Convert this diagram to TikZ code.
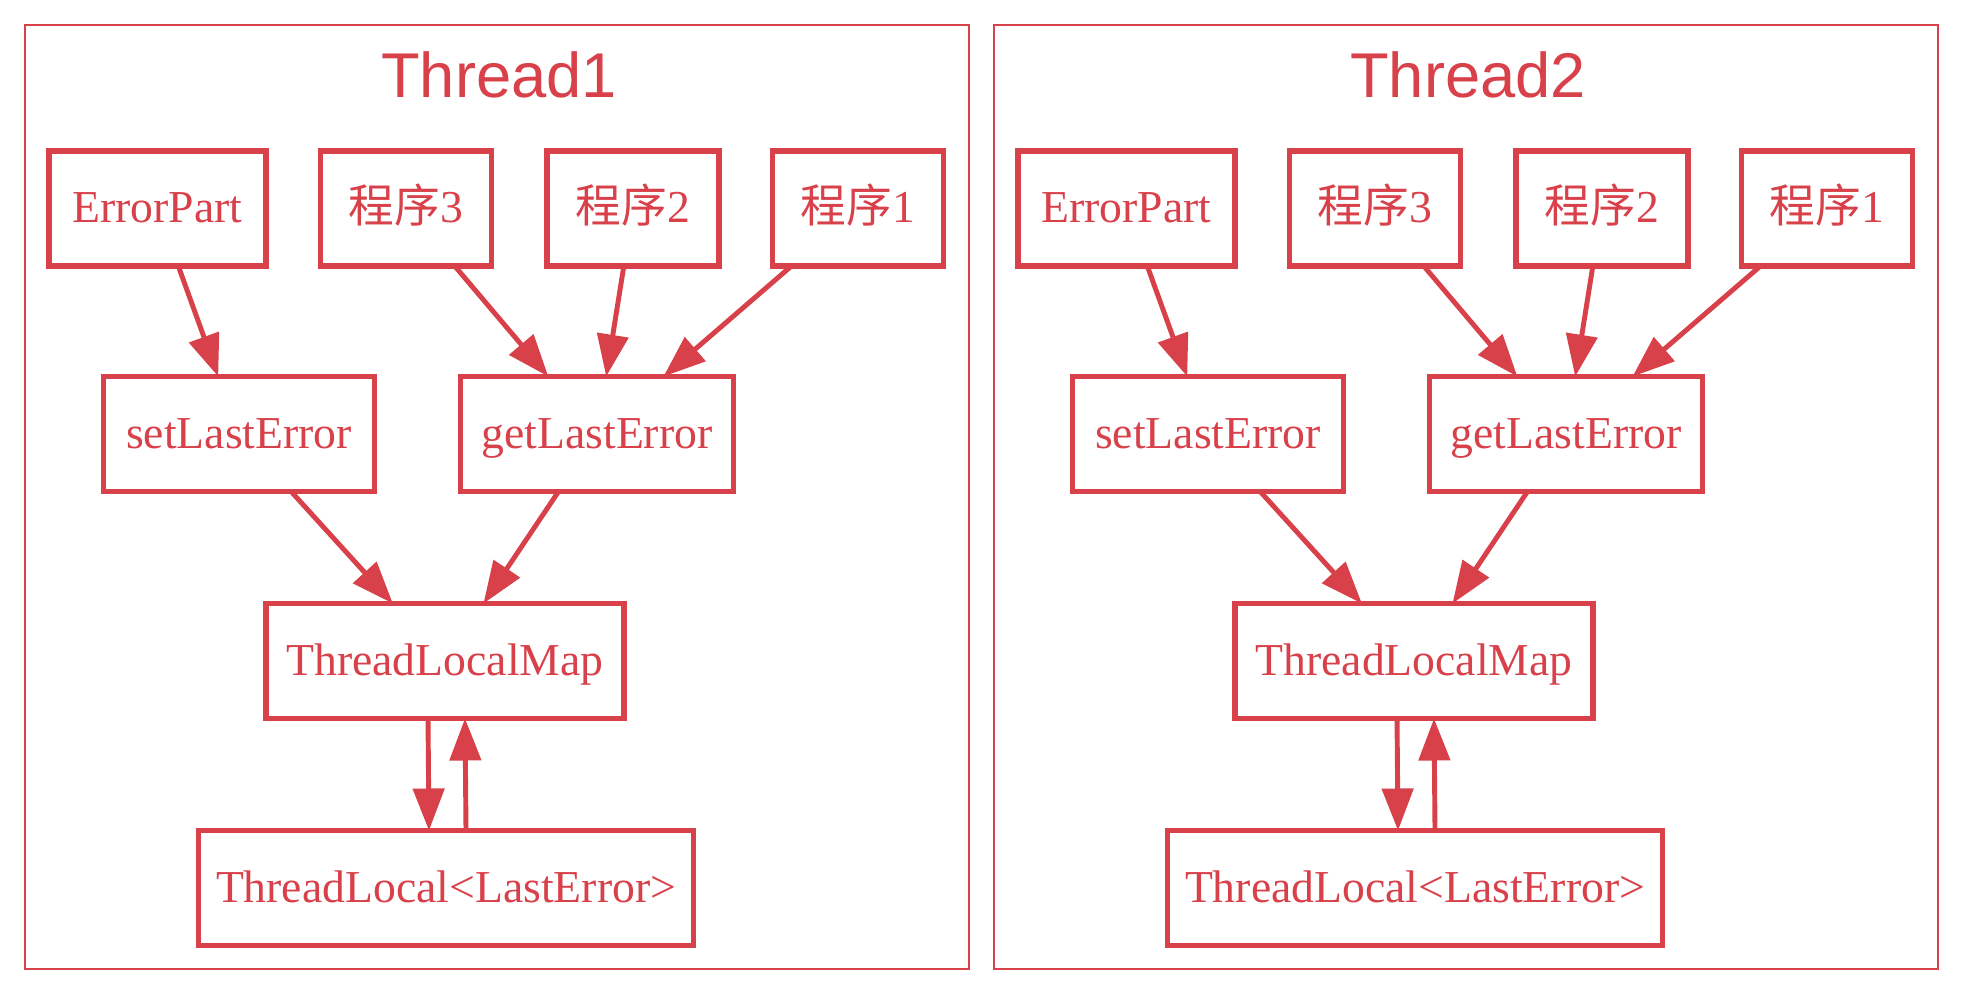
\documentclass[tikz,border=0pt]{standalone}
\usepackage{fontspec}
\setmainfont{Liberation Serif}
\newfontfamily\titlefont{Liberation Sans}
\newfontfamily\cjk{Noto Sans CJK SC}
\usetikzlibrary{arrows.meta, positioning}
\definecolor{myred}{RGB}{216,64,74}
\tikzset{
  frame/.style={rectangle, draw=myred, line width=0.7pt,
    minimum width=9.44cm, minimum height=9.44cm},
  threadtitle/.style={text=myred, font=\titlefont\fontsize{18}{20}\selectfont},
  box/.style={rectangle, draw=myred, text=myred, line width=1.6pt,
    minimum height=1.15cm, inner sep=2pt, outer sep=0pt,
    text height=1.02em, text depth=0.2em,
    font=\fontsize{13}{15}\selectfont},
  arrow/.style={-{Triangle[length=0.42cm, width=0.31cm]}, line width=1.4pt, color=myred}
}

\begin{document}
\begin{tikzpicture}
  \useasboundingbox (0,0) rectangle (19.70,9.86);
  \foreach \t/\dx in {1/0, 2/9.69}{
  \begin{scope}[xshift=\dx cm]
    % Frame and title
    \node[frame] (frame\t) at (4.97,4.89) {};
    \node[threadtitle, anchor=base] (title\t) at (4.99,8.89) {Thread\t};

    % Callers
    \node[box, minimum width=2.17cm] (ep\t) at (1.575,7.775) {ErrorPart};
    \node[box, minimum width=1.71cm] (pc\t) at (4.06,7.775) {{\cjk 程序}3};
    \node[box, minimum width=1.72cm] (pb\t) at (6.33,7.775) {{\cjk 程序}2};
    \node[box, minimum width=1.71cm] (pa\t) at (8.58,7.775) {{\cjk 程序}1};

    % Accessors
    \node[box, minimum width=2.71cm] (set\t) at (2.39,5.52) {setLastError};
    \node[box, minimum width=2.73cm] (get\t) at (5.97,5.52) {getLastError};

    % Storage
    \node[box, minimum width=3.58cm] (tlm\t) at (4.45,3.25) {ThreadLocalMap};
    \node[box, minimum width=4.95cm] (tl\t) at (4.46,0.98) {ThreadLocal<LastError>};

    % Calls
    \draw[arrow] (ep\t) -- (set\t);
    \draw[arrow] (pc\t) -- (get\t);
    \draw[arrow] (pb\t) -- (get\t);
    \draw[arrow] (pa\t) -- (get\t);
    \draw[arrow] (set\t) -- (tlm\t);
    \draw[arrow] (get\t) -- (tlm\t);
    \draw[arrow] ([xshift=-0.17cm]tlm\t.south) -- ([xshift=-0.17cm]tl\t.north);
    \draw[arrow] ([xshift=0.2cm]tl\t.north) -- ([xshift=0.2cm]tlm\t.south);
  \end{scope}
  }
\end{tikzpicture}
\end{document}
